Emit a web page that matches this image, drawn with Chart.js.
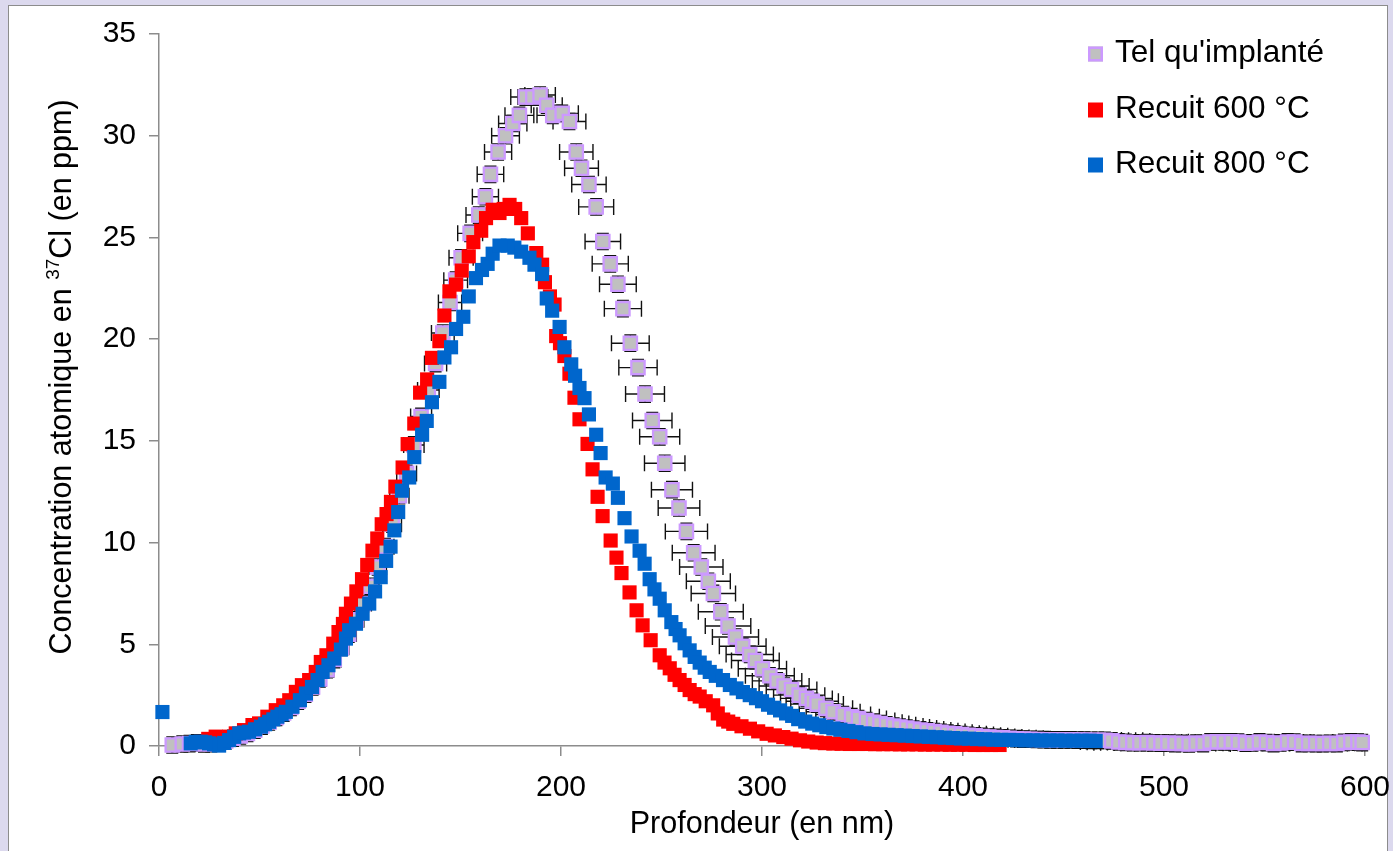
<!DOCTYPE html>
<html><head><meta charset="utf-8">
<script src="https://cdn.jsdelivr.net/npm/chart.js@4.4.1/dist/chart.umd.min.js"></script>
<style>
html,body{margin:0;padding:0;width:1393px;height:851px;overflow:hidden;background:#dcd9ee;}
#frame{position:absolute;left:8px;top:5px;width:1380px;height:870px;background:#fff;border:1.5px solid #8c8c8c;box-sizing:border-box;}
#wrap{position:absolute;left:0;top:0;width:1393px;height:851px;}
</style></head><body>
<div id="frame"></div>
<div id="wrap"><canvas id="c" width="1393" height="851"></canvas></div>
<script>
// ---- Data ----
const seriesNames = ["Tel qu'implanté", "Recuit 600 °C", "Recuit 800 °C"];

const depthTel = [6.6,11.6,15.2,18.8,22.4,26.0,29.6,33.2,36.8,40.4,44.0,47.6,51.2,54.8,58.4,62.0,65.6,69.2,72.8,76.4,80.0,83.6,87.2,90.8,94.4,98.0,101.6,105.2,108.8,112.4,116.0,119.6,123.2,126.8,130.4,134.0,137.6,141.2,144.8,147.6,150.3,154.8,159.1,162.4,164.9,168.7,172.4,176.0,179.3,182.3,186.0,189.6,192.9,195.9,200.6,204.2,207.6,210.2,213.9,217.5,220.8,224.5,228.3,230.8,234.5,238.3,241.8,245.4,249.1,251.6,255.2,258.7,262.4,266.0,269.8,273.3,275.8,279.5,283.1,286.8,290.4,293.9,296.7,300.2,303.9,307.5,311.0,314.7,318.5,322.1,325.0,327.4,331.8,335.4,340.4,344.6,348.0,352.0,355.5,358.7,362.0,365.5,368.6,372.0,375.4,378.8,382.2,385.6,389.0,392.4,395.8,399.2,402.6,406.0,409.4,412.8,416.2,419.6,423.0,426.4,429.8,433.2,436.6,440.0,443.4,446.8,450.2,453.6,457.0,460.4,463.8,467.2,470.6,474.0,477.5,481.0,484.5,488.0,491.5,495.0,498.5,502.0,505.5,509.0,512.5,516.0,519.5,523.0,526.5,530.0,533.5,537.0,540.5,544.0,547.5,551.0,554.5,558.0,561.5,565.0,568.5,572.0,575.5,579.0,582.5,586.0,589.5,593.0,596.5,598.6];
const concTel = [0.05,0.1,0.12,0.15,0.1,0.12,0.18,0.25,0.38,0.5,0.62,0.78,0.98,1.18,1.4,1.62,1.9,2.2,2.55,2.9,3.3,3.75,4.25,4.85,5.5,6.2,7.0,7.85,8.8,9.8,10.9,12.3,13.4,14.8,16.2,17.5,18.8,20.3,21.8,22.9,24.0,25.2,26.1,27.0,28.1,29.2,30.0,30.6,31.0,31.9,31.9,32.0,31.5,31.0,31.1,30.7,29.2,28.4,27.6,26.5,24.8,23.7,22.7,21.5,19.8,18.6,17.3,16.0,15.2,13.9,12.6,11.7,10.55,9.5,8.8,8.1,7.5,6.6,5.9,5.36,4.9,4.5,4.2,3.8,3.45,3.2,2.95,2.78,2.5,2.34,2.2,2.06,1.85,1.68,1.55,1.44,1.35,1.25,1.17,1.1,1.04,0.98,0.93,0.88,0.83,0.79,0.75,0.71,0.67,0.63,0.6,0.56,0.53,0.5,0.47,0.44,0.42,0.4,0.38,0.36,0.34,0.33,0.32,0.31,0.3,0.3,0.3,0.3,0.29,0.29,0.28,0.28,0.28,0.25,0.2,0.18,0.16,0.16,0.17,0.15,0.14,0.14,0.12,0.13,0.1,0.14,0.12,0.2,0.21,0.2,0.21,0.19,0.14,0.15,0.2,0.17,0.12,0.15,0.2,0.19,0.12,0.13,0.12,0.12,0.13,0.12,0.18,0.2,0.19,0.17];

const depthR600 = [21.0,24.5,28.2,31.5,34.9,38.2,42.3,46.5,49.8,53.9,58.1,61.8,64.8,68.1,71.1,74.7,78.0,80.5,83.3,86.7,89.3,91.5,93.0,95.5,98.2,101.0,103.6,106.2,108.6,110.8,113.2,115.4,117.6,121.2,123.7,127.0,129.9,133.4,135.8,139.5,142.0,144.5,147.8,150.6,154.1,156.4,160.3,162.7,166.0,169.4,171.5,174.4,177.2,180.2,183.5,187.7,190.6,192.0,194.5,196.8,197.6,199.5,201.7,204.2,206.7,209.2,213.2,215.7,218.2,220.7,224.7,227.6,230.1,234.1,237.6,240.6,244.6,249.1,251.5,254.1,256.5,259.0,261.5,264.0,266.5,269.0,272.0,275.7,278.0,280.7,283.2,285.7,289.8,294.0,298.1,302.3,306.4,310.6,314.7,318.9,323.0,327.2,331.3,335.5,339.6,343.7,347.9,352.0,356.2,360.3,364.4,368.6,372.7,376.9,381.0,385.1,389.3,393.4,397.6,401.7,405.8,410.0,414.1,418.2];
const concR600 = [0.2,0.35,0.46,0.3,0.46,0.62,0.78,1.03,1.11,1.44,1.76,2.0,2.25,2.66,2.99,3.24,3.64,4.13,4.46,5.03,5.6,6.0,6.5,7.0,7.6,8.2,8.9,9.6,10.2,10.9,11.4,12.0,12.75,13.69,14.84,15.85,17.37,18.02,19.08,19.9,21.16,22.35,22.68,23.37,24.07,24.77,25.33,25.95,26.36,26.2,26.4,26.6,26.4,25.95,25.2,24.23,23.66,22.8,22.1,21.7,20.15,19.8,19.17,18.3,17.12,16.06,14.85,13.6,12.25,11.3,10.1,9.26,8.5,7.55,6.67,5.93,5.2,4.46,4.1,3.82,3.5,3.24,3.0,2.75,2.55,2.43,2.2,2.0,1.6,1.3,1.2,1.09,0.97,0.85,0.72,0.6,0.52,0.44,0.36,0.28,0.22,0.17,0.14,0.12,0.11,0.1,0.1,0.1,0.09,0.09,0.09,0.08,0.08,0.08,0.07,0.07,0.07,0.06,0.06,0.06,0.05,0.05,0.05,0.05];

const depthR800 = [1.7,15.8,18.3,20.8,22.9,24.9,27.4,29.9,32.4,34.9,37.4,39.9,42.3,44.8,47.8,50.7,52.8,54.8,56.9,58.9,61.0,63.1,66.4,70.1,73.1,76.1,78.9,81.4,84.3,87.2,90.5,93.0,94.6,98.0,101.3,104.6,107.5,110.3,113.0,115.2,117.1,119.0,120.9,124.5,127.0,130.9,133.2,135.8,139.5,142.0,145.3,147.8,151.4,154.1,157.7,160.7,163.5,166.0,169.4,173.5,176.8,180.2,184.3,186.8,190.6,192.9,195.6,199.3,201.7,205.1,207.0,209.2,211.7,213.9,217.5,219.7,222.2,225.8,228.3,231.6,235.1,239.1,241.6,244.1,246.5,249.1,251.6,254.9,257.0,259.0,261.5,264.0,266.5,269.0,271.5,274.0,277.0,280.6,284.0,287.3,290.5,293.9,297.0,300.0,303.0,306.0,309.0,312.0,315.0,318.0,321.5,325.0,328.5,332.0,335.5,339.0,343.0,347.0,351.0,355.0,359.0,363.0,367.0,371.0,375.0,379.0,383.0,387.0,391.0,395.0,399.0,403.0,407.0,411.0,415.0,419.0,423.0,427.0,431.0,435.0,439.0,443.0,447.0,451.0,455.0,459.0,463.0,466.0];
const concR800 = [1.67,0.13,0.2,0.21,0.18,0.13,0.08,0.02,0.15,0.29,0.45,0.62,0.66,0.70,0.82,0.95,1.07,1.19,1.31,1.44,1.56,1.68,1.93,2.25,2.58,2.9,3.24,3.64,3.97,4.3,4.74,5.28,5.69,6.01,6.5,7.0,7.6,8.3,9.1,9.8,10.6,11.5,12.55,13.2,14.2,15.3,15.98,16.9,17.9,19.1,19.6,20.5,21.1,22.1,23.0,23.4,23.7,24.2,24.6,24.6,24.5,24.3,24.0,23.66,23.2,22.0,21.4,20.6,19.6,18.76,18.2,17.6,17.1,16.3,15.3,14.4,13.2,12.9,12.2,11.2,10.3,9.6,8.96,8.2,7.7,7.24,6.67,6.09,5.75,5.44,5.05,4.7,4.38,4.1,3.85,3.64,3.45,3.24,3.0,2.83,2.65,2.5,2.35,2.2,2.03,1.88,1.75,1.6,1.48,1.32,1.2,1.1,1.02,0.93,0.86,0.8,0.74,0.68,0.62,0.59,0.57,0.55,0.53,0.51,0.49,0.47,0.45,0.43,0.41,0.39,0.37,0.36,0.34,0.33,0.31,0.3,0.3,0.29,0.28,0.28,0.27,0.27,0.27,0.26,0.26,0.26,0.26,0.25];

const xTickValues = [0, 100, 200, 300, 400, 500, 600];
const yTickValues = [0, 5, 10, 15, 20, 25, 30, 35];
const depthErrPct = 4;   // horizontal error bars, percent of depth
const concErr = 0.4;     // vertical error bars, ppm

// ---- Styling ----
const FONT = "'Liberation Sans', Arial, Helvetica, sans-serif";
const COL_TEL_FILL = '#c0c0c0', COL_TEL_EDGE = '#cc99ff';
const COL_R600 = '#ff0000', COL_R800 = '#0066cc';
const AXIS_COL = '#8c8c8c';

const toPts = (xs, ys) => xs.map((x, i) => ({ x: x, y: ys[i] }));

const errorBars = {
  id: 'errorBars',
  beforeDatasetsDraw(chart) {
    const { ctx, chartArea: a, scales: { x, y } } = chart;
    ctx.save();
    ctx.strokeStyle = '#111';
    ctx.lineWidth = 1.4;
    depthTel.forEach((d, i) => {
      const c = concTel[i];
      const e = d * depthErrPct / 100;
      const px = x.getPixelForValue(d), py = y.getPixelForValue(c);
      const x0 = x.getPixelForValue(d - e), x1 = x.getPixelForValue(d + e);
      ctx.beginPath();
      ctx.moveTo(Math.max(x0, a.left), py); ctx.lineTo(Math.min(x1, a.right), py);
      if (x0 >= a.left) { ctx.moveTo(x0, py - 8); ctx.lineTo(x0, py + 8); }
      if (x1 <= a.right) { ctx.moveTo(x1, py - 8); ctx.lineTo(x1, py + 8); }
      const y0 = y.getPixelForValue(c - concErr), y1 = y.getPixelForValue(c + concErr);
      ctx.moveTo(px, y0); ctx.lineTo(px, y1);
      ctx.moveTo(px - 6, y0); ctx.lineTo(px + 6, y0);
      ctx.moveTo(px - 6, y1); ctx.lineTo(px + 6, y1);
      ctx.stroke();
    });
    ctx.restore();
  }
};

const titlesAndLegend = {
  id: 'titlesAndLegend',
  afterDraw(chart) {
    const ctx = chart.ctx;
    ctx.save();
    ctx.fillStyle = '#000';
    // x title
    ctx.font = '30.5px ' + FONT;
    ctx.textAlign = 'center';
    ctx.textBaseline = 'alphabetic';
    ctx.fillText('Profondeur (en nm)', 762, 833);
    // y title with superscript
    ctx.save();
    ctx.translate(71, 377);
    ctx.rotate(-Math.PI / 2);
    const p1 = 'Concentration atomique en ', sup = '37', p2 = 'Cl (en ppm)';
    ctx.font = '30.5px ' + FONT; const w1 = ctx.measureText(p1).width, w3 = ctx.measureText(p2).width;
    ctx.font = '19px ' + FONT; const w2 = ctx.measureText(sup).width;
    let sx = -(w1 + w2 + w3) / 2;
    ctx.textAlign = 'left';
    ctx.font = '30.5px ' + FONT; ctx.fillText(p1, sx, 0); sx += w1;
    ctx.font = '19px ' + FONT; ctx.fillText(sup, sx, -12); sx += w2;
    ctx.font = '30.5px ' + FONT; ctx.fillText(p2, sx, 0);
    ctx.restore();
    // legend
    const items = chart.data.datasets;
    const rows = [62, 118, 173];
    items.forEach((ds, i) => {
      const cy = rows[i] - 8;
      ctx.fillStyle = ds.backgroundColor;
      ctx.fillRect(1088, cy - 7.5, 15, 15);
      if (ds.borderWidth > 0) {
        ctx.strokeStyle = ds.borderColor; ctx.lineWidth = 2.5;
        ctx.strokeRect(1089.25, cy - 6.25, 12.5, 12.5);
      }
      ctx.fillStyle = '#000';
      ctx.font = '31.5px ' + FONT;
      ctx.textAlign = 'left';
      ctx.textBaseline = 'alphabetic';
      ctx.fillText(ds.label, 1115, rows[i]);
    });
    ctx.restore();
  }
};

new Chart(document.getElementById('c'), {
  type: 'scatter',
  data: {
    datasets: [
      { label: seriesNames[0], data: toPts(depthTel, concTel), pointStyle: 'rect', pointRadius: 9.4, pointHoverRadius: 9.4,
        backgroundColor: COL_TEL_FILL, borderColor: COL_TEL_EDGE, borderWidth: 2.3, order: 2, clip: false },
      { label: seriesNames[1], data: toPts(depthR600, concR600), pointStyle: 'rect', pointRadius: 10, pointHoverRadius: 10,
        backgroundColor: COL_R600, borderColor: COL_R600, borderWidth: 0, order: 1, clip: false },
      { label: seriesNames[2], data: toPts(depthR800, concR800), pointStyle: 'rect', pointRadius: 10, pointHoverRadius: 10,
        backgroundColor: COL_R800, borderColor: COL_R800, borderWidth: 0, order: 0, clip: false }
    ]
  },
  options: {
    responsive: false, animation: false, devicePixelRatio: 1,
    layout: { padding: { left: 0, top: 34, right: 28, bottom: 0 } },
    plugins: { legend: { display: false }, tooltip: { enabled: false }, title: { display: false } },
    events: [],
    scales: {
      x: {
        type: 'linear', min: 0, max: 600,
        afterBuildTicks: s => { s.ticks = xTickValues.map(v => ({ value: v })); },
        afterFit: s => { s.height = 105; s.paddingLeft = 0; s.paddingRight = 0; },
        ticks: { font: { family: FONT, size: 30 }, color: '#000', padding: 14, maxRotation: 0 },
        grid: { drawOnChartArea: false, tickLength: 10, color: AXIS_COL, lineWidth: 1.5 },
        border: { color: AXIS_COL, width: 1.5 }
      },
      y: {
        type: 'linear', min: 0, max: 35,
        afterBuildTicks: s => { s.ticks = yTickValues.map(v => ({ value: v })); },
        afterFit: s => { s.width = 159; s.paddingTop = 0; s.paddingBottom = 0; },
        ticks: { font: { family: FONT, size: 30 }, color: '#000', padding: 13 },
        grid: { drawOnChartArea: false, tickLength: 10, color: AXIS_COL, lineWidth: 1.5 },
        border: { color: AXIS_COL, width: 1.5 }
      }
    }
  },
  plugins: [errorBars, titlesAndLegend]
});
</script>
</body></html>
